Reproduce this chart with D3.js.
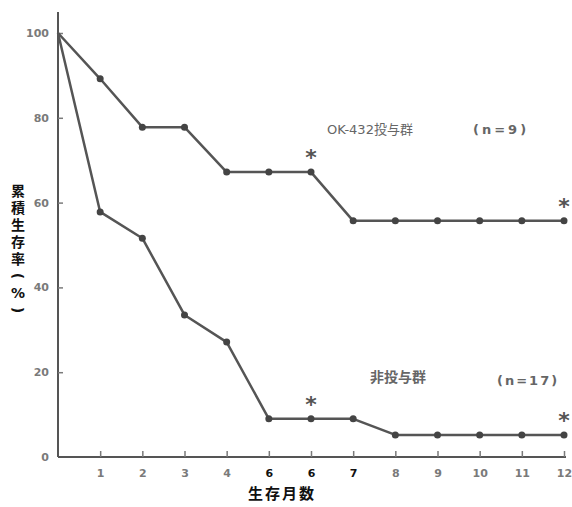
<!DOCTYPE html>
<html>
<head>
<meta charset="utf-8">
<script src="https://cdn.jsdelivr.net/npm/d3@7"></script>
<style>
  body { margin: 0; background: #fff; }
  svg text { font-family: "DejaVu Sans", "Noto Sans CJK JP", sans-serif; }
</style>
</head>
<body>
<svg id="chart"></svg>
<script>
/* data */
var months = [0, 1, 2, 3, 4, 5, 6, 7, 8, 9, 10, 11, 12]
var okValues = [100, 89.2, 77.8, 77.8, 67.2, 67.2, 67.2, 55.7, 55.7, 55.7, 55.7, 55.7, 55.7]
var ctrlValues = [100, 57.8, 51.6, 33.5, 27.1, 9.0, 9.0, 9.0, 5.2, 5.2, 5.2, 5.2, 5.2]
var xTickValues = [1, 2, 3, 4, 5, 6, 7, 8, 9, 10, 11, 12]
var xTickLabels = ["1", "2", "3", "4", "6", "6", "7", "8", "9", "10", "11", "12"]
var yTickValues = [0, 20, 40, 60, 80, 100]
var okCensored = [6, 12]
var ctrlCensored = [6, 12]

var width = 572, height = 507

var svg = d3.select("#chart")
    .attr("width", width)
    .attr("height", height)

var x = d3.scaleLinear().domain([0, 12]).range([58, 564])
var y = d3.scaleLinear().domain([0, 100]).range([457, 33])

var lineCol = "#555"
var tickCol = "#7a7a7a"

/* axes */
var xAxis = d3.axisBottom(x)
    .tickValues(xTickValues)
    .tickFormat(function(d, i) { return xTickLabels[i] })
    .tickSizeInner(-6)
    .tickSizeOuter(0)
    .tickPadding(12)

var gx = svg.append("g")
    .attr("transform", "translate(0," + y(0) + ")")
    .call(xAxis)
gx.select(".domain").attr("stroke", lineCol).attr("stroke-width", 2)
    .attr("d", "M" + x(0) + ",0H" + (x(12) + 2))
gx.selectAll(".tick line").attr("stroke", tickCol).attr("stroke-width", 1.5)
gx.selectAll(".tick text")
    .attr("fill", function(d) { return (d >= 5 && d <= 7) ? "#111" : tickCol })
    .attr("font-size", 11)
    .attr("font-weight", "bold")

var yAxis = d3.axisLeft(y)
    .tickValues(yTickValues)
    .tickSizeInner(-5)
    .tickSizeOuter(0)
    .tickPadding(9)

var gy = svg.append("g")
    .attr("transform", "translate(" + x(0) + ",0)")
    .call(yAxis)
gy.select(".domain").attr("stroke", lineCol).attr("stroke-width", 2)
    .attr("d", "M0," + y(0) + "V12")
gy.selectAll(".tick line").attr("stroke", tickCol).attr("stroke-width", 1.5)
    .filter(function(d) { return d == 0 }).remove()
gy.selectAll(".tick text")
    .attr("fill", tickCol)
    .attr("font-size", 11)
    .attr("font-weight", "bold")

/* lines */
var line = d3.line()
    .x(function(d) { return x(d[0]) })
    .y(function(d) { return y(d[1]) })

function drawSeries(vals) {
    var pts = months.map(function(m, i) { return [m, vals[i]] })
    svg.append("path")
        .datum(pts)
        .attr("fill", "none")
        .attr("stroke", lineCol)
        .attr("stroke-width", 2.5)
        .attr("stroke-linejoin", "round")
        .attr("d", line)
    svg.append("g")
        .selectAll("circle")
        .data(pts.slice(1))
        .enter()
        .append("circle")
        .attr("cx", function(d) { return x(d[0]) })
        .attr("cy", function(d) { return y(d[1]) })
        .attr("r", 3.5)
        .attr("fill", "#444")
}
drawSeries(okValues)
drawSeries(ctrlValues)

/* censored marks */
function drawStars(list, vals) {
    svg.append("g")
        .selectAll("text")
        .data(list)
        .enter()
        .append("text")
        .attr("x", function(d) { return x(d) })
        .attr("y", function(d) { return y(vals[d]) - 7 })
        .attr("text-anchor", "middle")
        .attr("font-size", 22)
        .attr("font-weight", "bold")
        .attr("fill", "#555")
        .text("*")
}
drawStars(okCensored, okValues)
drawStars(ctrlCensored, ctrlValues)

/* group labels */
svg.append("text").attr("x", 327).attr("y", 134)
    .attr("font-size", 13).attr("fill", "#666").text("OK-432投与群")
svg.append("text").attr("x", 473).attr("y", 134)
    .attr("font-size", 13).attr("fill", "#666").attr("font-weight", "bold")
    .attr("letter-spacing", 3).text("(n=9)")
svg.append("text").attr("x", 370).attr("y", 382)
    .attr("font-size", 14).attr("fill", "#666").attr("font-weight", "bold").text("非投与群")
svg.append("text").attr("x", 497).attr("y", 385)
    .attr("font-size", 13).attr("fill", "#666").attr("font-weight", "bold")
    .attr("letter-spacing", 2).text("(n=17)")

/* axis titles */
var yTitle = ["累", "積", "生", "存", "率", "（", "%", "）"]
svg.append("g")
    .selectAll("text")
    .data(yTitle)
    .enter()
    .append("text")
    .attr("x", 18)
    .attr("y", function(d, i) { return 196 + i * 17 })
    .attr("text-anchor", "middle")
    .attr("font-size", 14)
    .attr("font-weight", "bold")
    .attr("fill", "#111")
    .attr("transform", function(d, i) {
        return (d == "（" || d == "）") ? "rotate(90,18," + (191 + i * 17) + ")" : null
    })
    .text(function(d) { return (d == "（") ? "(" : (d == "）") ? ")" : d })

svg.append("text")
    .attr("x", 282)
    .attr("y", 499)
    .attr("text-anchor", "middle")
    .attr("font-size", 15)
    .attr("font-weight", "bold")
    .attr("fill", "#111")
    .attr("letter-spacing", 2)
    .text("生存月数")
</script>
</body>
</html>
